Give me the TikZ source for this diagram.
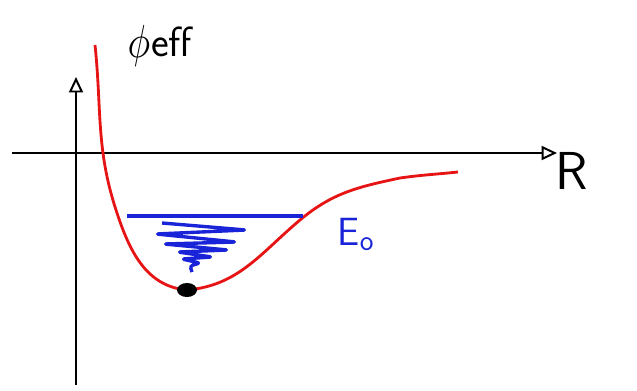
\documentclass[tikz,border=0pt]{standalone}
\usepackage{amsmath, amssymb}
\usepackage{xcolor}
\usepackage{tikz}
\usetikzlibrary{calc, arrows.meta, positioning}

\definecolor{penred}{RGB}{230,20,20}
\definecolor{penblue}{RGB}{25,35,215}

\begin{document}
\begin{tikzpicture}[x=0.025cm, y=0.025cm,
    >={Triangle[open, length=11pt, width=10pt, line width=1.4pt]},
    axis/.style={->, black, line width=1.5pt},
    well/.style={penred, line width=2pt},
    level/.style={penblue, line width=2.4pt}]
    \useasboundingbox (0,0) rectangle (637,390);

    % 1. Hệ trục
    \coordinate (xL) at (12,237);
    \coordinate (xR) at (557,237);
    \coordinate (yB) at (76,5);
    \coordinate (yT) at (76,313);
    \draw[axis] (xL) -- (xR);
    \draw[axis] (yB) -- (yT);
    \node (R) at (572,219) {\fontsize{38}{42}\selectfont\sffamily R};
    \node[inner sep=0pt] (phi) at (139,344) {\scalebox{2.7}[3.3]{$\phi$}};
    \node[anchor=base west, inner sep=0pt] (eff) at (151,333)
        {\fontsize{30}{34}\selectfont\sffamily eff};

    % 2. Các điểm của đường cong
    \coordinate (P1) at (95,345);
    \coordinate (P2) at (116,180);
    \coordinate (P3) at (187,100);
    \coordinate (P4) at (300,170);
    \coordinate (P5) at (400,212);
    \coordinate (P6) at (458,218);

    % 3. Đường cong thế năng hiệu dụng
    \draw[well]
        (P1) to[out=-84, in=108] (P2)
        to[out=-72, in=175] (P3)
        to[out=5, in=220] (P4)
        to[out=40, in=192] (P5)
        to[out=8, in=186] (P6);
    \fill[black] (P3) ellipse (10 and 7);

    % 4. Mức năng lượng E0
    \coordinate (E1) at (127,174);
    \coordinate (E2) at (303,174);
    \draw[level] (E1) -- (E2);
    \draw[level, line join=round, rounded corners=2pt]
        (162,167) -- (246,160) -- (156,156) -- (236,148) -- (164,146)
        -- (228,140) -- (178,138) -- (212,133) -- (182,131)
        -- (200,127) -- (190,124) -- (192,118);
    \node[penblue] (E0) at (356,156) {\fontsize{28}{32}\selectfont\sffamily E$_{\mathsf{o}}$};

\end{tikzpicture}
\end{document}
